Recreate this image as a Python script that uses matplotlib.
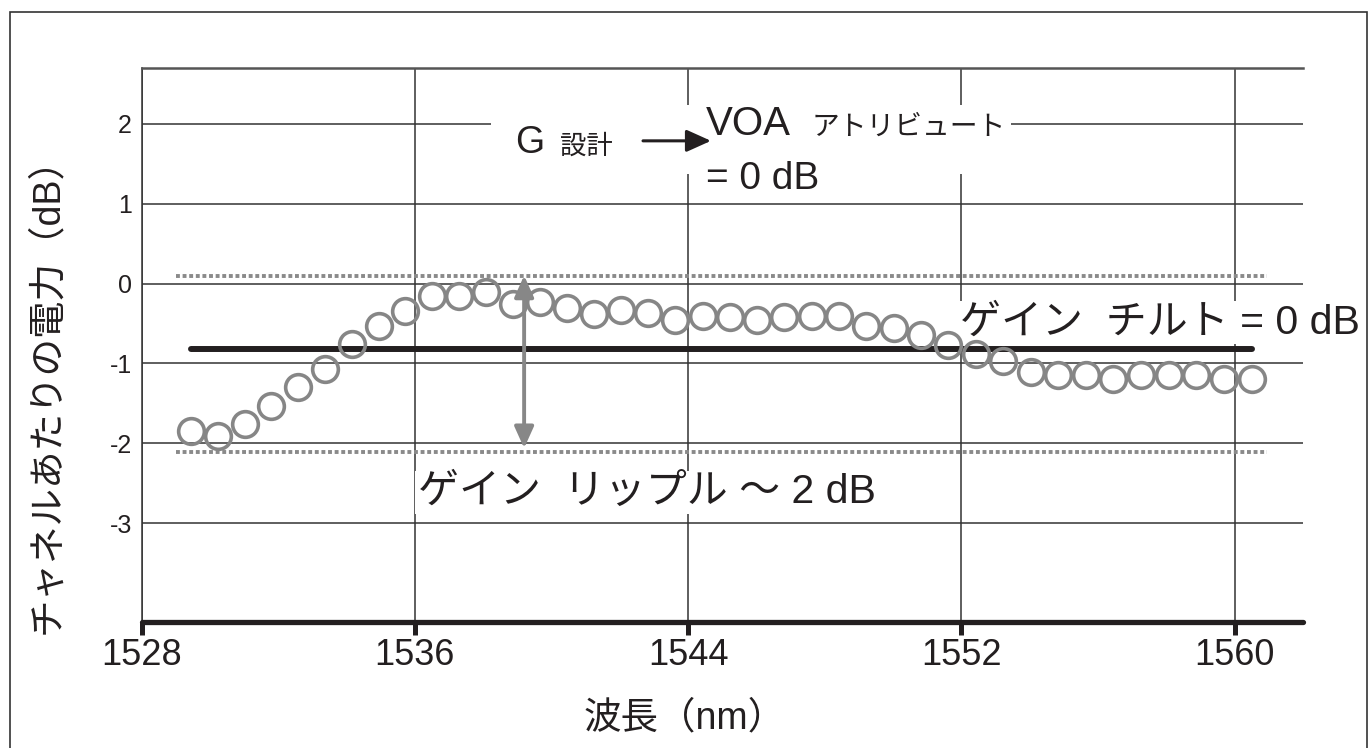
import matplotlib
matplotlib.use('Agg')
import matplotlib.pyplot as plt
from matplotlib.patches import Rectangle, FancyArrowPatch

plt.rcParams['font.family'] = ['Liberation Sans', 'Noto Sans CJK JP']

# ---------------- data ----------------
wavelength_nm = [1529.45, 1530.23, 1531.02, 1531.80, 1532.58, 1533.37, 1534.15, 1534.94,
                 1535.72, 1536.51, 1537.30, 1538.09, 1538.88, 1539.67, 1540.46, 1541.25,
                 1542.04, 1542.84, 1543.63, 1544.43, 1545.22, 1546.02, 1546.82, 1547.62,
                 1548.41, 1549.22, 1550.02, 1550.82, 1551.62, 1552.42, 1553.23, 1554.03,
                 1554.84, 1555.65, 1556.45, 1557.26, 1558.07, 1558.88, 1559.69, 1560.51]
power_db = [-1.84, -1.91, -1.76, -1.53, -1.30, -1.07, -0.76, -0.53,
            -0.34, -0.16, -0.15, -0.11, -0.26, -0.23, -0.31, -0.38,
            -0.33, -0.37, -0.46, -0.40, -0.42, -0.45, -0.42, -0.41,
            -0.41, -0.53, -0.56, -0.64, -0.77, -0.88, -0.97, -1.11,
            -1.15, -1.15, -1.19, -1.15, -1.15, -1.15, -1.19, -1.19]
tilt_level_db = -0.82
ripple_max_db = 0.10
ripple_min_db = -2.11
ripple_span_nm = [1529.0, 1560.95]
ripple_arrow_nm = 1539.2
ripple_arrow_db = [-2.06, 0.10]

x_ticks = [1528, 1536, 1544, 1552, 1560]
x_tick_labels = ['1528', '1536', '1544', '1552', '1560']
y_ticks = [-3, -2, -1, 0, 1, 2]
y_tick_labels = ['-3', '-2', '-1', '0', '1', '2']

x_label = '波長（nm）'
y_label = 'チャネルあたりの電力（dB）'

# ---------------- figure ----------------
fig = plt.figure(figsize=(13.7, 7.48), dpi=100)
ax = fig.add_axes([0.1033, 0.1678, 0.8478, 0.7417])
ax.set_xlim(1528, 1562)
ax.set_ylim(-4.24, 2.70)

ax.set_xticks(x_ticks)
ax.set_xticklabels(x_tick_labels, fontsize=26, color='#231f20')
ax.set_yticks(y_ticks)
ax.set_yticklabels(y_tick_labels, fontsize=18, color='#231f20')
ax.grid(True, color='#333333', lw=1.1)
ax.tick_params(axis='x', direction='out', length=9, width=3.6, color='#231f20', pad=2)
ax.tick_params(axis='y', length=0, pad=7)

ax.spines['right'].set_visible(False)
ax.spines['left'].set_color('#333333')
ax.spines['left'].set_linewidth(1.1)
ax.spines['top'].set_color('#555555')
ax.spines['top'].set_linewidth(1.8)
ax.spines['bottom'].set_color('#231f20')
ax.spines['bottom'].set_linewidth(3.8)
ax.spines['bottom'].set_capstyle('round')

# ripple bounds (dotted)
for lvl in (ripple_max_db, ripple_min_db):
    ax.plot(ripple_span_nm, [lvl, lvl], color='#8a8a8a', lw=2.8,
            linestyle=(0, (1.0, 0.7)), dash_capstyle='butt', zorder=3)

# tilt line
ax.plot([wavelength_nm[0], wavelength_nm[-1]], [tilt_level_db, tilt_level_db],
        color='#231f20', lw=4.3, solid_capstyle='round', zorder=4)

# data points
ax.plot(wavelength_nm, power_db, 'o', ms=18.5, mfc='none', mec='#868686', mew=2.6,
        zorder=5, clip_on=False)

# ripple double arrow
arr = FancyArrowPatch((ripple_arrow_nm, ripple_arrow_db[0]), (ripple_arrow_nm, ripple_arrow_db[1]),
                      arrowstyle='<|-|>,head_length=1.0,head_width=0.45', mutation_scale=13,
                      lw=2.8, color='#878787', shrinkA=0, shrinkB=0, zorder=6)
ax.add_patch(arr)

# white area behind top annotation
ax.add_patch(Rectangle((1538.24, 1.368), 15.2, 0.863, fc='white', ec='none', zorder=2.5))

ax.text(1538.94, 1.63, 'G', fontsize=27, va='baseline', ha='left', color='#231f20', zorder=6)
ax.text(1540.25, 1.63, '設計', fontsize=19, va='baseline', ha='left', color='#231f20', zorder=6)
ax.annotate('', xy=(1544.67, 1.785), xytext=(1542.68, 1.785),
            arrowprops=dict(arrowstyle='-|>,head_length=1.0,head_width=0.45', mutation_scale=15,
                            lw=2.2, color='#231f20', shrinkA=0, shrinkB=0), zorder=6)
ax.text(1544.53, 1.856, 'VOA', fontsize=29, va='baseline', ha='left', color='#231f20', zorder=6)
ax.text(1547.6, 1.856, 'アトリビュート', fontsize=20, va='baseline', ha='left', color='#231f20', zorder=6)
ax.text(1544.53, 1.18, '= 0 dB', fontsize=28, va='baseline', ha='left', color='#231f20', zorder=6)

ax.text(1551.97, -0.626, 'ゲイン  チルト = 0 dB', fontsize=29.5, va='baseline', ha='left',
        color='#231f20', zorder=3.5, bbox=dict(fc='white', ec='none', pad=2))
ax.text(1536.08, -2.75, 'ゲイン  リップル ～ 2 dB', fontsize=29.5, va='baseline', ha='left',
        color='#231f20', zorder=3.5, bbox=dict(fc='white', ec='none', pad=2))

# axis labels
fig.text(47 / 1370, 1 - 386 / 748, y_label, rotation=90, fontsize=27, ha='center', va='center',
         color='#231f20')
fig.text(685 / 1370, 1 - 718 / 748, x_label, fontsize=27, ha='center', va='center', color='#231f20')

# outer frame
fig.add_artist(Rectangle((10 / 1370, -0.05), (1367 - 10) / 1370, (748 - 12) / 748 + 0.05,
                         transform=fig.transFigure, fill=False, ec='#333333', lw=1.2))

fig.savefig('out.png', dpi=100)
